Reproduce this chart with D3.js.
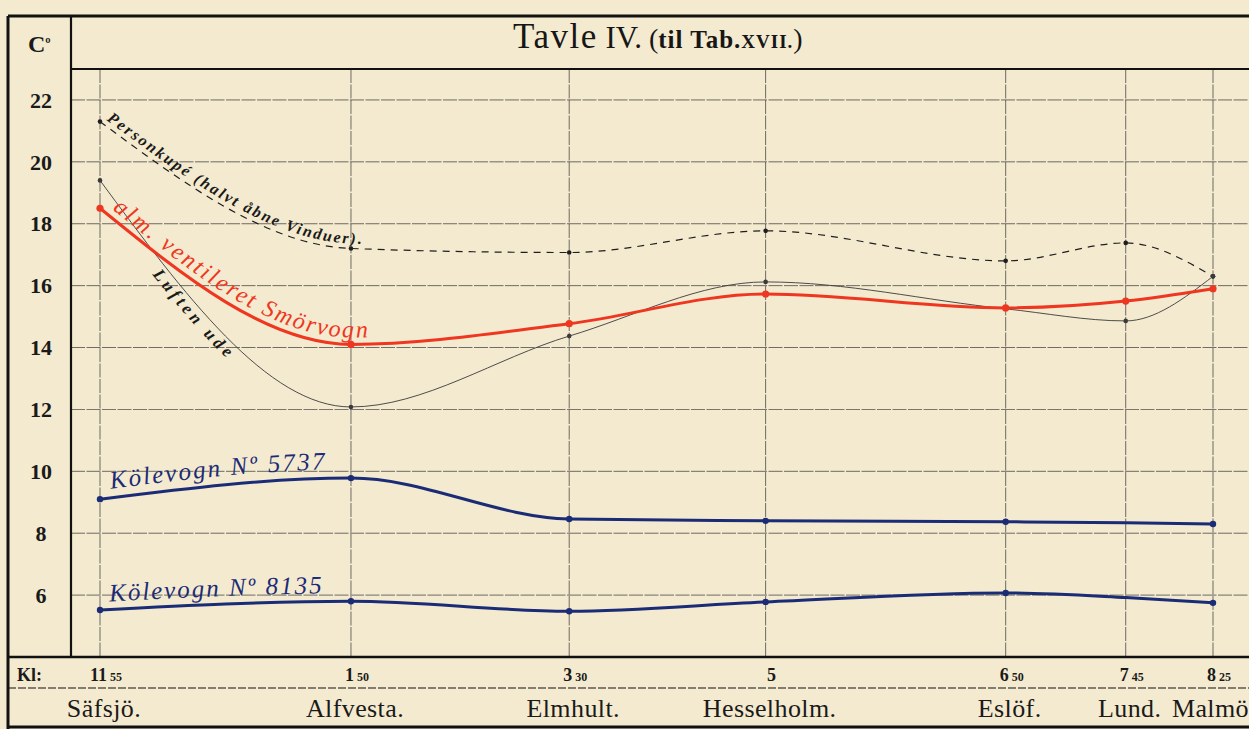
<!DOCTYPE html>
<html>
<head>
<meta charset="utf-8">
<script src="https://cdn.jsdelivr.net/npm/d3@7"></script>
<style>
  body { margin: 0; background: #f4eacf; }
  svg { display: block; }
  .grid { stroke: #2e2e2e; stroke-width: 0.8; stroke-dasharray: 14,1.5; opacity: 0.85; }
  .frame { stroke: #111; fill: none; }
  .ytick { font-family: "Liberation Serif", serif; font-weight: bold; font-size: 22px; fill: #1a1a1a; }
  .station { font-family: "Liberation Serif", serif; font-size: 26px; fill: #1a1a1a; letter-spacing: 0.4px; }
  .hour { font-family: "Liberation Serif", serif; font-weight: bold; font-size: 18px; fill: #1a1a1a; }
  .minute { font-size: 12px; }
  .lbl { font-family: "Liberation Serif", serif; font-style: italic; }
</style>
</head>
<body>
<svg id="chart" width="1249" height="729"></svg>
<script>
// TAVLE IV - temperatures along the line Säfsjö - Malmö

// DATA
var stations = ["Säfsjö.", "Alfvesta.", "Elmhult.", "Hesselholm.", "Eslöf.", "Lund.", "Malmö"];
var hours = ["11", "1", "3", "5", "6", "7", "8"];
var minutes = ["55", "50", "30", "", "50", "45", "25"];
var minutesFromStart = [0, 115, 215, 305, 415, 470, 510];
var yTicks = [6, 8, 10, 12, 14, 16, 18, 20, 22];

var personkupe = [21.3, 17.2, 17.07, 17.77, 16.8, 17.38, 16.3];
var luftenUde = [19.4, 12.08, 14.37, 16.12, 15.25, 14.86, 16.3];
var smorvogn = [18.5, 14.1, 14.77, 15.73, 15.28, 15.5, 15.9];
var kolevogn5737 = [9.1, 9.78, 8.46, 8.4, 8.37, 8.34, 8.3];
var kolevogn8135 = [5.52, 5.8, 5.48, 5.78, 6.07, 5.92, 5.75];

// SIZING
var width = 1249;
var plotLeft = 71, plotTop = 69, plotBottom = 657;
var frameLeft = 8, frameTop = 16, kLine = 688, frameBottom = 727;

var svg = d3.select("#chart");

svg.append("rect")
  .attr("width", width).attr("height", 729)
  .attr("fill", "#f4eacf");

var xScale = d3.scaleLinear()
  .domain([0, 510])
  .range([100, 1213]);

var yScale = d3.scaleLinear()
  .domain([4, 23])
  .range([plotBottom, plotTop]);

// GRID
svg.selectAll(".hgrid")
  .data(yTicks)
  .enter()
  .append("line")
  .attr("class", "grid")
  .attr("x1", plotLeft).attr("x2", width)
  .attr("y1", d => yScale(d)).attr("y2", d => yScale(d));

svg.selectAll(".vgrid")
  .data(minutesFromStart)
  .enter()
  .append("line")
  .attr("class", "grid")
  .attr("x1", d => xScale(d)).attr("x2", d => xScale(d))
  .attr("y1", plotTop).attr("y2", plotBottom);

// FRAME
function frameLine(x1, y1, x2, y2, w, dash) {
  var l = svg.append("line")
    .attr("class", "frame")
    .attr("x1", x1).attr("y1", y1).attr("x2", x2).attr("y2", y2)
    .attr("stroke-width", w);
  if (dash) { l.attr("stroke-dasharray", dash); }
}
frameLine(frameLeft, frameTop, width, frameTop, 3);
frameLine(frameLeft, frameTop, frameLeft, frameBottom + 2, 3);
frameLine(plotLeft, frameTop, plotLeft, plotBottom, 2.2);
frameLine(plotLeft, plotTop, width, plotTop, 2);
frameLine(frameLeft, plotBottom, width, plotBottom, 2.6);
frameLine(frameLeft, kLine, width, kLine, 1, "8,2");
frameLine(frameLeft, frameBottom, width, frameBottom, 3);

// TITLE
var title = svg.append("text")
  .attr("x", 513).attr("y", 48)
  .style("font-family", "Liberation Serif, serif")
  .style("fill", "#161616");
title.append("tspan").text("Tavle").style("font-size", "35px").style("letter-spacing", "1.5px");
title.append("tspan").text(" IV.").style("font-size", "31px");
title.append("tspan").text(" (").style("font-size", "28px").style("font-weight", "300");
title.append("tspan").text("til Tab.").style("font-size", "25px").style("font-weight", "bold").style("letter-spacing", "1px");
title.append("tspan").text("XVII.").style("font-size", "19px").style("font-weight", "bold").style("letter-spacing", "1px");
title.append("tspan").text(")").style("font-size", "28px").style("font-weight", "300");

// Y AXIS LABELS
var unit = svg.append("text")
  .attr("x", 28).attr("y", 52)
  .attr("class", "ytick")
  .style("font-size", "24px");
unit.append("tspan").text("C");
unit.append("tspan").text("º").style("font-size", "16px").attr("dy", -3);

svg.selectAll(".ylab")
  .data(yTicks)
  .enter()
  .append("text")
  .attr("class", "ytick")
  .attr("x", 41)
  .attr("y", d => yScale(d))
  .attr("dy", "0.35em")
  .attr("text-anchor", "middle")
  .text(d => d);

// KL ROW
svg.append("text")
  .attr("class", "hour")
  .attr("x", 17).attr("y", 681)
  .text("Kl:");

var timeLabels = svg.selectAll(".time")
  .data(minutesFromStart)
  .enter()
  .append("text")
  .attr("class", "hour")
  .attr("x", d => xScale(d) + 6)
  .attr("y", 681)
  .attr("text-anchor", "middle");
timeLabels.append("tspan").text((d, i) => hours[i]);
timeLabels.append("tspan").attr("class", "minute").text((d, i) => minutes[i] ? " " + minutes[i] : "");

// station names, the last one kept inside the page
svg.selectAll(".station")
  .data(minutesFromStart)
  .enter()
  .append("text")
  .attr("class", "station")
  .attr("y", 717)
  .attr("text-anchor", "middle")
  .text((d, i) => stations[i])
  .attr("x", function(d) {
    var half = this.getComputedTextLength() / 2;
    return Math.min(xScale(d) + 4, width - half);
  });

// LINES
var series = [
  { id: "pk", values: personkupe, color: "#1e1e1e", w: 1.2, dash: "7,6", r: 2.3, dots: [0,1,2,3,4,5,6] },
  { id: "lu", values: luftenUde, color: "#3a3a3a", w: 0.9, dash: null, r: 2.3, dots: [0,1,2,3,4,5,6] },
  { id: "sm", values: smorvogn, color: "#ef3620", w: 3, dash: null, r: 3.6, dots: [0,1,2,3,4,5,6] },
  { id: "k1", values: kolevogn5737, color: "#1b2c77", w: 3, dash: null, r: 3.2, dots: [0,1,2,3,4,6] },
  { id: "k2", values: kolevogn8135, color: "#1b2c77", w: 3, dash: null, r: 3.2, dots: [0,1,2,3,4,6] }
];

var line = d3.line()
  .x((d, i) => xScale(minutesFromStart[i]))
  .y(d => yScale(d))
  .curve(d3.curveMonotoneX);

series.forEach(function(s) {
  var p = svg.append("path")
    .attr("id", "line-" + s.id)
    .attr("d", line(s.values))
    .attr("fill", "none")
    .attr("stroke", s.color)
    .attr("stroke-width", s.w);
  if (s.dash) { p.attr("stroke-dasharray", s.dash); }

  svg.selectAll(".dot-" + s.id)
    .data(s.dots)
    .enter()
    .append("circle")
    .attr("cx", i => xScale(minutesFromStart[i]))
    .attr("cy", i => yScale(s.values[i]))
    .attr("r", s.r)
    .attr("fill", s.color);
});

// LINE LABELS (written along the curves)
function curveLabel(id, txt, offset, dy, len, size, color, weight) {
  svg.append("text")
    .attr("class", "lbl")
    .attr("dy", dy)
    .style("font-size", size + "px")
    .style("font-weight", weight || "normal")
    .style("fill", color)
    .append("textPath")
    .attr("href", "#line-" + id)
    .attr("startOffset", offset)
    .attr("textLength", len)
    .attr("lengthAdjust", "spacing")
    .text(txt);
}
curveLabel("pk", "Personkupé (halvt åbne Vinduer).", 4, -5, 292, 16, "#1a1a1a", "bold");
curveLabel("sm", "alm. ventileret Smörvogn", 10, -7, 298, 24, "#ef3620");
curveLabel("lu", "Luften ude", 106, 15, 110, 17, "#1a1a1a", "bold");
curveLabel("k1", "Kölevogn  Nº 5737", 12, -9, 214, 25, "#1b2c77");
curveLabel("k2", "Kölevogn  Nº 8135", 10, -8, 212, 25, "#1b2c77");
</script>
</body>
</html>
